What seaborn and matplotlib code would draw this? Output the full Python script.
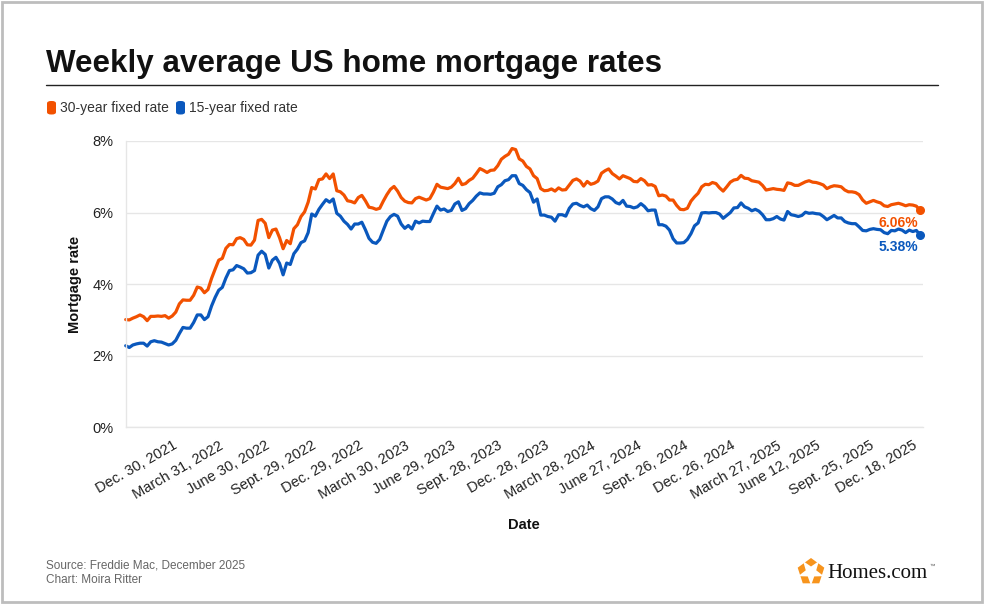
import numpy as np
import pandas as pd
import matplotlib.pyplot as plt
import seaborn as sns
from matplotlib.patches import Rectangle, FancyBboxPatch, Polygon
from matplotlib.lines import Line2D

# weekly Freddie Mac PMMS readings, first week = Sept. 30, 2021
START = "2021-09-30"

rate_30 = [
    # 2021
    3.01, 3.00, 3.05, 3.09, 3.14, 3.09, 2.98, 3.10, 3.10, 3.11, 3.10, 3.12, 3.05, 3.11,
    # 2022
    3.22, 3.45, 3.56, 3.55, 3.55, 3.69, 3.92, 3.89, 3.76, 3.85, 4.16, 4.42, 4.67,
    4.72, 5.00, 5.11, 5.10, 5.27, 5.30, 5.25, 5.10, 5.09, 5.23, 5.78, 5.81, 5.70,
    5.30, 5.51, 5.54, 5.30, 4.99, 5.22, 5.13, 5.55, 5.66, 5.89, 6.02, 6.29, 6.70,
    6.66, 6.92, 6.94, 7.08, 6.95, 7.08, 6.61, 6.58, 6.49, 6.33, 6.31, 6.27, 6.42,
    # 2023
    6.48, 6.33, 6.15, 6.13, 6.09, 6.12, 6.32, 6.50, 6.65, 6.73, 6.60, 6.42, 6.32,
    6.28, 6.27, 6.39, 6.43, 6.39, 6.35, 6.39, 6.57, 6.79, 6.71, 6.69, 6.67, 6.71,
    6.81, 6.96, 6.78, 6.81, 6.90, 6.96, 7.09, 7.23, 7.18, 7.12, 7.18, 7.19, 7.31,
    7.49, 7.57, 7.63, 7.79, 7.76, 7.50, 7.44, 7.29, 7.22, 7.03, 6.95, 6.67, 6.61,
    # 2024
    6.62, 6.66, 6.60, 6.69, 6.63, 6.64, 6.77, 6.90, 6.94, 6.88, 6.74, 6.87, 6.79,
    6.82, 6.88, 7.10, 7.17, 7.22, 7.09, 7.02, 6.94, 7.03, 6.99, 6.95, 6.87, 6.86,
    6.95, 6.89, 6.77, 6.78, 6.73, 6.47, 6.49, 6.46, 6.35, 6.35, 6.20, 6.09, 6.08,
    6.12, 6.32, 6.44, 6.54, 6.72, 6.79, 6.78, 6.84, 6.81, 6.69, 6.60, 6.72, 6.85,
    # 2025
    6.91, 6.93, 7.04, 6.96, 6.95, 6.89, 6.87, 6.85, 6.76, 6.63, 6.65, 6.67, 6.65,
    6.64, 6.62, 6.83, 6.81, 6.76, 6.76, 6.81, 6.86, 6.89, 6.85, 6.84, 6.81, 6.77,
    6.67, 6.72, 6.75, 6.74, 6.72, 6.63, 6.58, 6.58, 6.56, 6.50, 6.35, 6.26, 6.30,
    6.34, 6.30, 6.27, 6.19, 6.17, 6.22, 6.24, 6.26, 6.23, 6.19, 6.22, 6.21, 6.18,
    6.06,
]

rate_15 = [
    # 2021
    2.28, 2.23, 2.30, 2.33, 2.35, 2.35, 2.27, 2.39, 2.42, 2.39, 2.38, 2.34, 2.30, 2.33,
    # 2022
    2.43, 2.62, 2.79, 2.77, 2.77, 2.93, 3.14, 3.14, 3.01, 3.09, 3.39, 3.63, 3.83,
    3.91, 4.17, 4.38, 4.40, 4.52, 4.48, 4.43, 4.31, 4.32, 4.38, 4.81, 4.92, 4.83,
    4.45, 4.67, 4.75, 4.58, 4.26, 4.59, 4.55, 4.85, 4.98, 5.16, 5.21, 5.44, 5.96,
    5.90, 6.09, 6.23, 6.36, 6.29, 6.38, 5.98, 5.90, 5.76, 5.67, 5.54, 5.68, 5.68,
    # 2023
    5.73, 5.52, 5.28, 5.17, 5.14, 5.25, 5.51, 5.76, 5.89, 5.95, 5.90, 5.68, 5.56,
    5.64, 5.54, 5.76, 5.71, 5.76, 5.75, 5.75, 5.97, 6.18, 6.07, 6.10, 6.03, 6.06,
    6.24, 6.30, 6.06, 6.11, 6.25, 6.34, 6.46, 6.55, 6.52, 6.52, 6.51, 6.54, 6.72,
    6.78, 6.89, 6.92, 7.03, 7.03, 6.81, 6.76, 6.64, 6.56, 6.29, 6.38, 5.93, 5.93,
    # 2024
    5.89, 5.87, 5.76, 5.94, 5.94, 5.90, 6.12, 6.24, 6.26, 6.20, 6.16, 6.21, 6.11,
    6.06, 6.16, 6.39, 6.44, 6.44, 6.38, 6.28, 6.24, 6.34, 6.18, 6.17, 6.13, 6.16,
    6.25, 6.17, 6.05, 6.07, 6.07, 5.66, 5.66, 5.62, 5.51, 5.27, 5.15, 5.15, 5.16,
    5.25, 5.41, 5.63, 5.71, 5.99, 6.00, 5.99, 6.00, 6.00, 5.96, 5.84, 5.92, 6.00,
    # 2025
    6.13, 6.14, 6.27, 6.16, 6.12, 6.05, 6.09, 6.04, 5.94, 5.80, 5.80, 5.83, 5.89,
    5.82, 5.79, 6.03, 5.94, 5.92, 5.89, 5.92, 6.01, 5.98, 5.99, 5.97, 5.96, 5.89,
    5.80, 5.86, 5.92, 5.85, 5.85, 5.75, 5.71, 5.69, 5.69, 5.60, 5.50, 5.49, 5.53,
    5.55, 5.53, 5.52, 5.44, 5.41, 5.50, 5.49, 5.54, 5.51, 5.44, 5.51, 5.47, 5.50,
    5.38,
]

series_names = ["30-year fixed rate", "15-year fixed rate"]

tick_dates = ["2021-12-30", "2022-03-31", "2022-06-30", "2022-09-29", "2022-12-29",
              "2023-03-30", "2023-06-29", "2023-09-28", "2023-12-28", "2024-03-28",
              "2024-06-27", "2024-09-26", "2024-12-26", "2025-03-27", "2025-06-12",
              "2025-09-25", "2025-12-18"]
tick_labels = ["Dec. 30, 2021", "March 31, 2022", "June 30, 2022", "Sept. 29, 2022",
               "Dec. 29, 2022", "March 30, 2023", "June 29, 2023", "Sept. 28, 2023",
               "Dec. 28, 2023", "March 28, 2024", "June 27, 2024", "Sept. 26, 2024",
               "Dec. 26, 2024", "March 27, 2025", "June 12, 2025", "Sept. 25, 2025",
               "Dec. 18, 2025"]
y_ticks = [0, 2, 4, 6, 8]

ORANGE = "#f25100"
BLUE = "#0a58bd"
GRID = "#e6e6e6"

weeks = pd.date_range(START, periods=len(rate_30), freq="7D")
df = pd.concat([
    pd.DataFrame({"Date": weeks, "rate": rate_30, "series": series_names[0]}),
    pd.DataFrame({"Date": weeks, "rate": rate_15, "series": series_names[1]}),
])

sns.set_theme(style="white")
plt.rcParams['font.family'] = ['Liberation Sans', 'DejaVu Sans']

W, H = 984, 604
def fx(px):
    return px / W
def fy(py):
    return 1 - py / H

fig = plt.figure(figsize=(W / 100, H / 100), dpi=100)
ax = fig.add_axes([fx(125.7), fy(427.3), fx(923) - fx(125.7), fy(141) - fy(427.3)])

sns.lineplot(data=df, x="Date", y="rate", hue="series", palette=[ORANGE, BLUE],
             linewidth=2.3, legend=False, ax=ax, clip_on=False)

# end dots + labels
for vals, col in [(rate_30, ORANGE), (rate_15, BLUE)]:
    ax.scatter([weeks[-1]], [vals[-1]], s=30, color=col, zorder=5, clip_on=False)
    ax.annotate(f"{vals[-1]:.2f}%", (weeks[-1], vals[-1]), xytext=(-1, -9),
                textcoords="offset points", ha="right", va="center",
                color=col, fontsize=10, fontweight="bold")

ax.set_ylim(0, 8)
ax.set_xlim(weeks[0], weeks[-1] + pd.Timedelta(days=6))
ax.set_yticks(y_ticks)
ax.set_yticklabels([f"{v}%" for v in y_ticks])
ax.set_xticks(pd.to_datetime(tick_dates))
ax.set_xticklabels(tick_labels, rotation=30, ha="right", rotation_mode="anchor")
ax.yaxis.grid(True, color=GRID, lw=1)
ax.set_axisbelow(True)
ax.tick_params(axis="both", length=5, width=1, color=GRID, labelsize=10.5,
               labelcolor="#222", pad=4)
ax.tick_params(axis="x", pad=3)
for s in ["top", "right"]:
    ax.spines[s].set_visible(False)
for s in ["left", "bottom"]:
    ax.spines[s].set_color(GRID)
    ax.spines[s].set_linewidth(1)

ax.set_xlabel("Date", fontsize=10.5, fontweight="bold", color="#111", labelpad=12)
ax.set_ylabel("Mortgage rate", fontsize=10.5, fontweight="bold", color="#111", labelpad=7)

# title, rule, legend
fig.text(fx(46), fy(72), "Weekly average US home mortgage rates", fontsize=22.6,
         fontweight="bold", color="#111", va="baseline")
fig.add_artist(Line2D([fx(46), fx(938)], [fy(85), fy(85)], color="#222", lw=1))

for x0, col, name in [(46, ORANGE, series_names[0]), (175, BLUE, series_names[1])]:
    fig.add_artist(FancyBboxPatch((fx(x0 + 1), fy(114.5)), fx(9), fy(101) - fy(114.5),
                                  boxstyle="round,pad=0,rounding_size=0.004",
                                  transform=fig.transFigure, color=col, lw=0))
    fig.text(fx(x0 + 14), fy(108), name, fontsize=10, color="#333", va="center")

# footer
fig.text(fx(46), fy(565), "Source: Freddie Mac, December 2025", fontsize=8.5,
         color="#666", va="center")
fig.text(fx(46), fy(580), "Chart: Moira Ritter", fontsize=8.5, color="#666", va="center")

# logo: orange pentagon split by a white star
cx, cy = 811, 572
pent = [(fx(cx + 14 * np.cos(np.pi / 2 + k * 2 * np.pi / 5)),
         fy(cy - 14 * np.sin(np.pi / 2 + k * 2 * np.pi / 5))) for k in range(5)]
fig.add_artist(Polygon(pent, closed=True, transform=fig.transFigure,
                       color="#f7941d", lw=0))
star = []
for i in range(10):
    r = 13.5 if i % 2 == 0 else 5.5
    a = np.pi / 2 + np.pi / 5 + i * np.pi / 5
    star.append((fx(cx + r * np.cos(a)), fy(cy - r * np.sin(a))))
fig.add_artist(Polygon(star, closed=True, transform=fig.transFigure, color="white", lw=0))
fig.text(fx(827), fy(573), "Homes.com", fontsize=15, color="#111", va="center",
         family=["Liberation Serif", "DejaVu Serif"])
fig.text(fx(929), fy(566), "™", fontsize=4, color="#555", va="center")

# outer border
fig.add_artist(Rectangle((fx(2), fy(602)), fx(980), fy(2) - fy(602),
                         transform=fig.transFigure, fill=False, edgecolor="#bdbdbd", lw=2))

fig.savefig("out.png", dpi=100)
